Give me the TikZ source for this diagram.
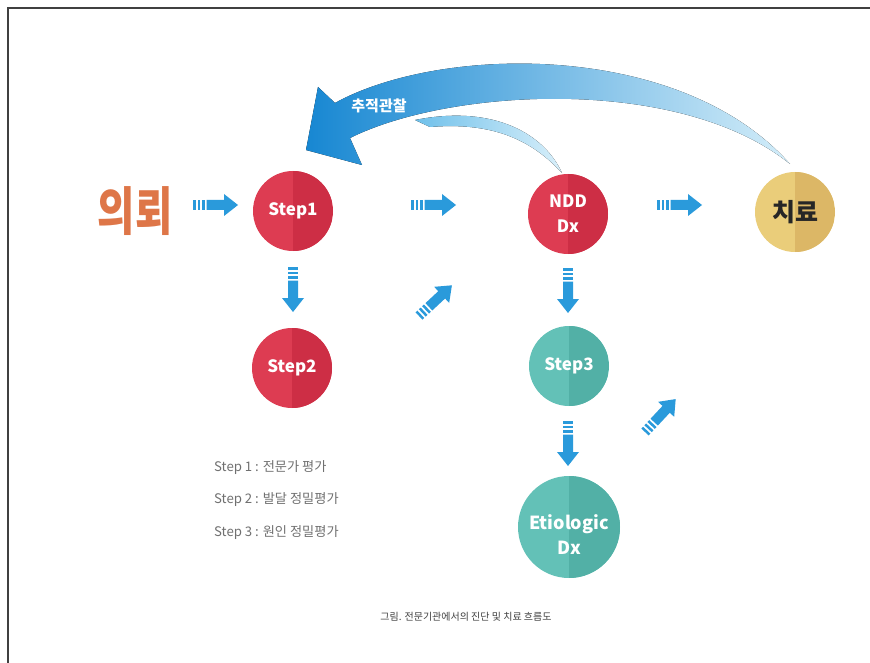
\documentclass[tikz,border=0pt]{standalone}
\usepackage{fontspec}
\usepackage{graphicx}
\newfontfamily\kr{Noto Sans CJK KR}
\definecolor{arrowblue}{HTML}{2A9ADB}
\definecolor{redA}{HTML}{DD3C52}
\definecolor{redB}{HTML}{CD2E45}
\definecolor{tealA}{HTML}{63C1B7}
\definecolor{tealB}{HTML}{52B0A6}
\definecolor{goldA}{HTML}{EACD7A}
\definecolor{goldB}{HTML}{DCB766}
\definecolor{refer}{HTML}{DE7648}
\definecolor{bigA}{HTML}{1787D2}
\definecolor{bigB}{HTML}{4FB0E4}
\definecolor{bigC}{HTML}{D3EDF9}
\definecolor{bandA}{HTML}{6FC0EA}
\definecolor{bandB}{HTML}{D8EFFA}
\definecolor{legendgray}{HTML}{707070}
\tikzset{
  circ/.style 2 args={circle, minimum size=80pt, inner sep=0pt, fill=#1,
    path picture={\fill[#2] (path picture bounding box.north) rectangle (path picture bounding box.south east);},
    text=white, align=center, font=\kr\bfseries\fontsize{17}{25}\selectfont},
  sarrow/.pic={
    \fill[arrowblue] (0,-5) rectangle (2.5,5);
    \fill[arrowblue] (4.5,-5) rectangle (7,5);
    \fill[arrowblue] (9,-5) rectangle (11.5,5);
    \fill[arrowblue] (13.5,-5) -- (31,-5) -- (31,-11) -- (45,0) -- (31,11) -- (31,5) -- (13.5,5) -- cycle;
  },
  legend/.style={anchor=west, text=legendgray, inner sep=0pt, font=\kr\fontsize{13.2}{15}\selectfont},
}
\begin{document}
\begin{tikzpicture}[x=1pt,y=-1pt]
\useasboundingbox (0,0) rectangle (870,663);
\fill[white] (0,0) rectangle (870,663);
\draw[line width=2pt, black!75] (8,663) -- (8,8) -- (870,8);

% big curved arrow
\fill[left color=bandA, right color=bandB]
  (415,120) .. controls (495,104) and (545,135) .. (562,173)
  .. controls (530,138) and (490,122) .. (430,127) -- cycle;
\fill[left color=bigA, middle color=bigB, right color=bigC]
  (306,150) -- (362,165) -- (350,138)
  .. controls (450,88) and (680,75) .. (790,164)
  .. controls (680,40) and (440,45) .. (335,103)
  -- (318,87) -- cycle;
\node[text=white, font=\kr\bfseries\fontsize{15}{16}\selectfont] (follow) at (379,106) {추적관찰};

% nodes
\node[text=refer, font=\kr\bfseries\fontsize{52}{52}\selectfont] (refer) at (135,211) {\scalebox{0.78}[1]{의뢰}};
\node[circ={redA}{redB}] (step1) at (293,211) {Step1};
\node[circ={redA}{redB}] (step2) at (292,368) {Step2};
\node[circ={redA}{redB}] (ndd) at (568,214) {NDD\\Dx};
\node[circ={goldA}{goldB}, text=black!85, font=\kr\bfseries\fontsize{25}{26}\selectfont] (treat) at (795,212) {치료};
\node[circ={tealA}{tealB}] (step3) at (569,366) {Step3};
\node[circ={tealA}{tealB}, minimum size=102pt] (etio) at (569,527) {};
\node[text=white, align=center, font=\kr\bfseries\fontsize{18}{25}\selectfont] (etiotext) at (569,535) {Etiologic\\Dx};

% striped arrows
\pic at (193,205) {sarrow};
\pic at (411,205) {sarrow};
\pic at (657,205) {sarrow};
\pic[rotate=-90] at (293,267) {sarrow};
\pic[rotate=-90] at (568,268) {sarrow};
\pic[rotate=-90] at (568,421) {sarrow};
\pic[rotate=43] at (419,316) {sarrow};
\pic[rotate=47] at (645,432) {sarrow};

% legend
\node[legend] (l1) at (214,468) {Step 1 : 전문가 평가};
\node[legend] (l2) at (214,500) {Step 2 : 발달 정밀평가};
\node[legend] (l3) at (214,533) {Step 3 : 원인 정밀평가};

\node[text=black!75, font=\kr\fontsize{10}{12}\selectfont] (cap) at (466,617) {그림. 전문기관에서의 진단 및 치료 흐름도};
\end{tikzpicture}
\end{document}
